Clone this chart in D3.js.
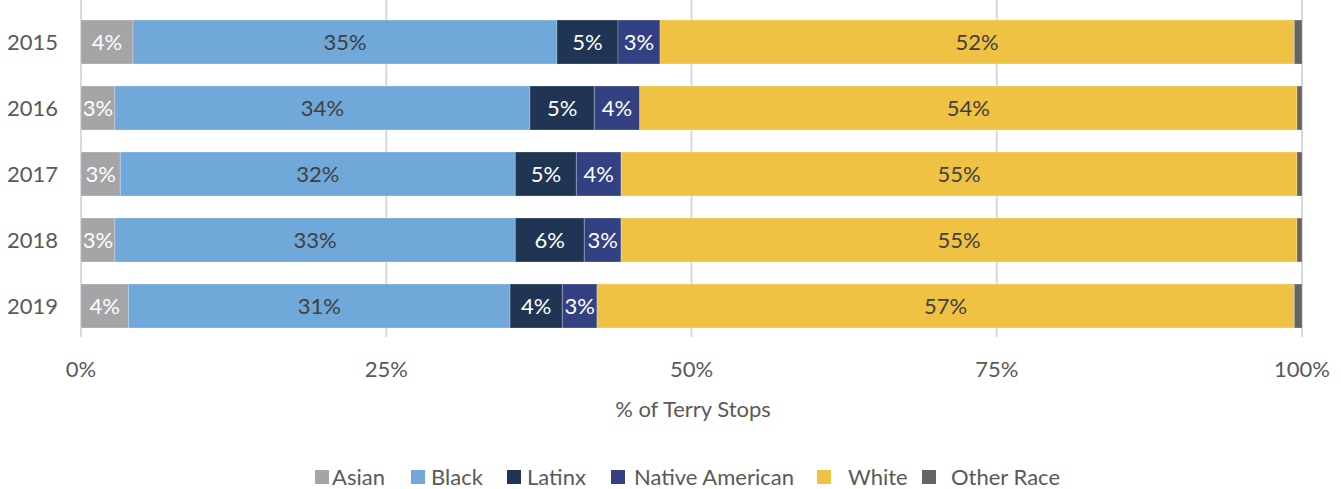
<!DOCTYPE html>
<html><head><meta charset="utf-8">
<script src="https://cdn.jsdelivr.net/npm/d3@7/dist/d3.min.js"></script>
<style>
html,body{margin:0;padding:0;background:#fff;}
svg text{font-family:Lato,"Open Sans",sans-serif;}
</style></head>
<body><svg id="chart" width="1341" height="489"></svg>
<script>
const years = ["2015","2016","2017","2018","2019"];
const seriesNames = ["Asian","Black","Latinx","Native American","White","Other Race"];
const asian  = [4.26, 2.78, 3.22, 2.78, 3.88];
const black  = [34.72, 33.99, 32.35, 32.79, 31.26];
const latinx = [5.00, 5.27, 5.00, 5.65, 4.28];
const native = [3.44, 3.72, 3.66, 3.01, 2.84];
const white  = [51.95, 53.83, 55.36, 55.36, 57.11];
const other  = [0.63, 0.41, 0.41, 0.41, 0.63];
const ticks = [0, 25, 50, 75, 100];
const tickLabels = ["0%","25%","50%","75%","100%"];
const axisTitle = "% of Terry Stops";

const colors = ["#a5a5a7","#6fa8d9","#1f3553","#334182","#f0c244","#646464"];
const labelColors = ["#ffffff","#404040","#ffffff","#ffffff","#404040",null];
const legendX = [315, 411, 507, 611, 817, 922];
const legendTextX = [332, 431, 527, 634, 848, 951];

const seriesVals = [asian, black, latinx, native, white, other];
const rows = years.map((y,i)=>{ const o={year:y}; seriesNames.forEach((s,k)=>o[s]=seriesVals[k][i]); return o; });
const stack = d3.stack().keys(seriesNames)(rows);

const svg = d3.select("#chart");
const x = d3.scaleLinear().domain([0,100]).range([81,1302]);
const y = d3.scaleBand().domain(years).range([9,339]).paddingInner(1/3).paddingOuter(1/6);

// gridlines
svg.append("g").selectAll("line").data(ticks).join("line")
  .attr("x1",d=>x(d)).attr("x2",d=>x(d)).attr("y1",0).attr("y2",337)
  .attr("stroke","#d9d9d9").attr("stroke-width",2);

svg.append("defs").append("clipPath").attr("id","plot")
  .append("rect").attr("x",81).attr("y",0).attr("width",1221).attr("height",340);

const g = svg.append("g").attr("clip-path","url(#plot)");
stack.forEach((layer,k)=>{
  const lg = g.append("g");
  lg.selectAll("rect").data(layer).join("rect")
    .attr("x",d=>x(d[0])).attr("width",d=>x(d[1])-x(d[0]))
    .attr("y",d=>y(d.data.year)).attr("height",y.bandwidth())
    .attr("fill",colors[k])
    .attr("stroke","rgba(255,255,255,0.25)").attr("stroke-width",1);
});
stack.forEach((layer,k)=>{
  if(!labelColors[k]) return;
  g.append("g").selectAll("text").data(layer).join("text")
    .attr("x",d=>(x(d[0])+x(d[1]))/2)
    .attr("y",d=>y(d.data.year)+y.bandwidth()/2+8)
    .attr("text-anchor","middle").attr("font-size",22)
    .attr("fill",labelColors[k])
    .text(d=>Math.round(d[1]-d[0])+"%");
});

// y labels
svg.append("g").selectAll("text").data(years).join("text")
  .attr("x",58).attr("y",d=>y(d)+y.bandwidth()/2+8)
  .attr("text-anchor","end").attr("font-size",22).attr("fill","#595959").text(d=>d);

// x tick labels
svg.append("g").selectAll("text").data(ticks).join("text")
  .attr("x",d=>x(d)).attr("y",377)
  .attr("text-anchor","middle").attr("font-size",22).attr("fill","#595959")
  .text((d,i)=>tickLabels[i]);

svg.append("text").attr("x",693).attr("y",417).attr("text-anchor","middle")
  .attr("font-size",22).attr("fill","#595959").text(axisTitle);

// legend
const leg = svg.append("g");
seriesNames.forEach((s,k)=>{
  leg.append("rect").attr("x",legendX[k]).attr("y",470).attr("width",14).attr("height",14).attr("fill",colors[k]);
  leg.append("text").attr("x",legendTextX[k]).attr("y",485).attr("font-size",22).attr("fill","#595959").text(s);
});
</script></body></html>
